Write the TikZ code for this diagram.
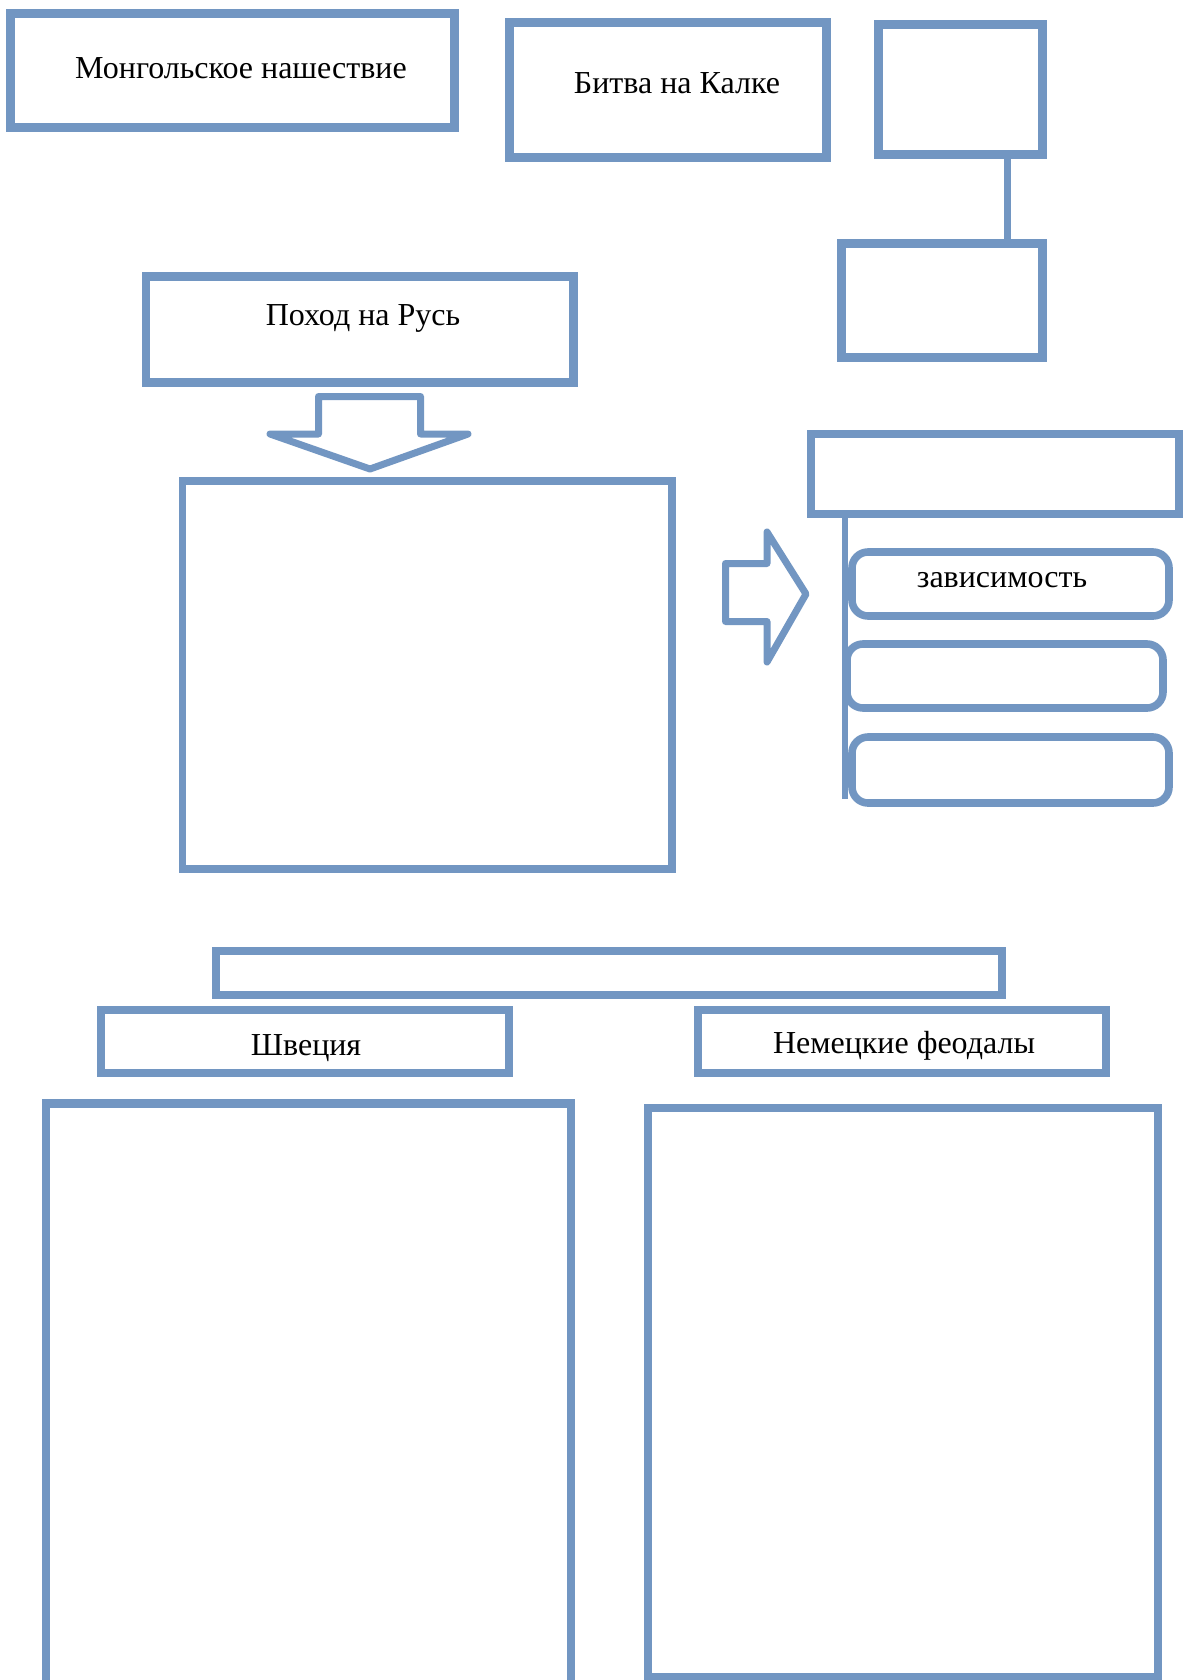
\documentclass[tikz,border=0pt]{standalone}
\usepackage{fontspec}
\setmainfont{Liberation Serif}
\usetikzlibrary{fit,calc}
\definecolor{frameblue}{RGB}{114,150,194}
\begin{document}
\begin{tikzpicture}[x=0.5pt,y=-0.5pt,
  box/.style={draw=frameblue, line width=4.2pt, inner sep=0pt},
  thinbox/.style={box, line width=3.6pt},
  rbox/.style={draw=frameblue, line width=3.8pt, rounded corners=8pt, inner sep=0pt},
  lbl/.style={font=\fontsize{16}{19}\selectfont, inner sep=0pt},
  link/.style={draw=frameblue, line width=3.5pt},
  blockarrow/.style={draw=frameblue, line width=3.5pt, line join=round, fill=white}
]
\useasboundingbox (0,0) rectangle (1186,1680);
\clip (0,0) rectangle (1186,1680);

% top row
\node[box, fit={(10.5,13.5) (454.5,127.5)}] (mong) {};
\node[lbl] (mongT) at (241,68) {Монгольское нашествие};
\node[box, fit={(509.5,22.5) (826.5,157.5)}] (bitva) {};
\node[lbl] (bitvaT) at (677,83) {Битва на Калке};
\node[box, fit={(878.5,24.5) (1042.5,154.5)}] (sqa) {};
\node[box, fit={(841.5,243.5) (1042.5,357.5)}] (sqb) {};
\coordinate (cx1) at (1007,200);
\draw[link] (sqa.south -| cx1) -- (sqb.north -| cx1);

% campaign
\node[box, fit={(146,276.5) (573.5,382.5)}] (pohod) {};
\node[lbl] (pohodT) at (363,318) {Поход на Русь};
\draw[blockarrow] (318.5,396.5) -- (420.5,396.5) -- (420.5,434) -- (468,434)
  -- (370,469) -- (270,434) -- (318.5,434) -- cycle;
\node[thinbox, fit={(182.5,481) (672,869)}] (big) {};

% right arrow
\draw[blockarrow] (725.5,563.5) -- (767,563.5) -- (767,532) -- (806,594)
  -- (767,662) -- (767,621.5) -- (725.5,621.5) -- cycle;

% right list
\node[thinbox, fit={(811,434) (1179,514)}] (head) {};
\node[rbox, fit={(852,552) (1169,616)}] (ra) {};
\node[lbl] (raT) at (1002,580) {зависимость};
\node[rbox, fit={(847,644) (1163,708)}] (rb) {};
\node[rbox, fit={(852,737) (1169,803)}] (rc) {};
\coordinate (cx2) at (845,600);
\draw[link, line width=2.6pt] (head.south -| cx2) -- ($(rc.south -| cx2)+(0,-8)$);

% bottom part
\node[box, fit={(216,951) (1002,995)}] (wide) {};
\node[box, fit={(101,1010) (509,1073)}] (shv) {};
\node[lbl] (shvT) at (306,1048) {Швеция};
\node[box, fit={(698,1010) (1106,1073)}] (nem) {};
\node[lbl] (nemT) at (904,1046) {Немецкие феодалы};
\node[box, fit={(46,1103.5) (571,1730)}] (colL) {};
\node[box, fit={(648,1108) (1158,1677)}] (colR) {};
\end{tikzpicture}
\end{document}
